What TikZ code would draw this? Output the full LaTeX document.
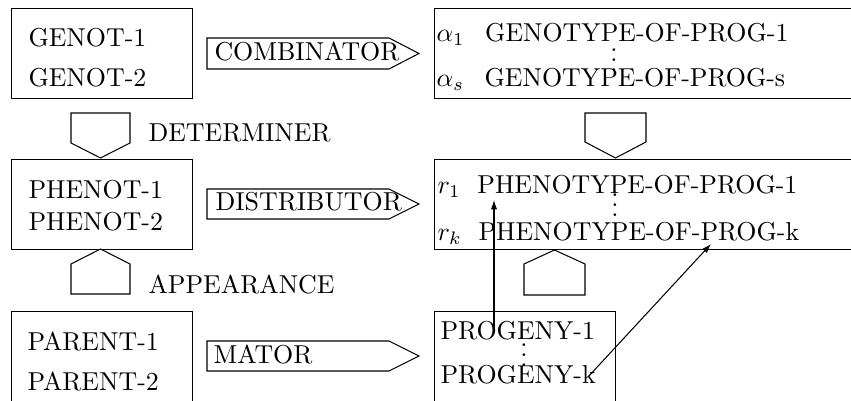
\documentclass[tikz,border=0pt]{standalone}
\usetikzlibrary{arrows.meta}
\begin{document}
\begin{tikzpicture}[x=0.3861pt,y=-0.3861pt,line width=0.4pt,
  frame/.style={draw, inner sep=0pt, anchor=north west},
  word/.style={inner sep=0pt, anchor=base west},
  dots/.style={inner sep=0pt, anchor=base},
  tag/.style={draw, line join=miter},
  link/.style={-{Latex[length=3.6pt,width=2.4pt]}}]
\useasboundingbox (0,0) rectangle (851,401);
\clip (0,0) rectangle (851,401);

% left column of boxes
\node[frame, minimum width={181*0.3861pt}, minimum height={90*0.3861pt}] (genot) at (11,8) {};
\node[frame, minimum width={181*0.3861pt}, minimum height={90*0.3861pt}] (phenot) at (11,159) {};
\node[frame, minimum width={181*0.3861pt}, minimum height={100*0.3861pt}] (parent) at (11,311) {};
\node[word] (g1) at (28,47) {GENOT-1};
\node[word] (g2) at (28,87) {GENOT-2};
\node[word] (ph1) at (28,199) {PHENOT-1};
\node[word] (ph2) at (28,231) {PHENOT-2};
\node[word] (pa1) at (27,351) {PARENT-1};
\node[word] (pa2) at (27,391) {PARENT-2};

% right column of boxes
\node[frame, minimum width={480*0.3861pt}, minimum height={90*0.3861pt}] (genotype) at (434,8) {};
\node[frame, minimum width={480*0.3861pt}, minimum height={90*0.3861pt}] (phenotype) at (434,159) {};
\node[frame, minimum width={181*0.3861pt}, minimum height={100*0.3861pt}] (progeny) at (434,311) {};
\node[word] (ga) at (436,42) {$\alpha_1$\hspace{7.9pt}GENOTYPE-OF-PROG-1};
\node[dots] (gd) at (614,72) {$\vdots$};
\node[word] (gs) at (436,87) {$\alpha_s$\hspace{7.9pt}GENOTYPE-OF-PROG-s};
\node[word] (r1) at (437,194) {$r_1$\hspace{6.4pt}PHENOTYPE-OF-PROG-1};
\node[dots] (rd) at (615,217) {$\vdots$};
\node[word] (rk) at (437,241) {$r_k$\hspace{6.4pt}PHENOTYPE-OF-PROG-k};
\node[word] (pr1) at (440,340) {PROGENY-1};
\node[dots] (prd) at (524,367) {$\vdots$};
\node[word] (prk) at (440,384) {PROGENY-k};

% horizontal operator tags
\draw[tag] (207,38) -- (389,38) -- (419,53.5) -- (389,69) -- (207,69) -- cycle;
\node[word] (comb) at (214,61) {COMBINATOR};
\draw[tag] (207,189) -- (389,189) -- (419,204) -- (389,219) -- (207,219) -- cycle;
\node[word] (dist) at (215,211) {DISTRIBUTOR};
\draw[tag] (207,341) -- (389,341) -- (419,356) -- (389,371) -- (207,371) -- cycle;
\node[word] (mat) at (213,364) {MATOR};

% vertical operator tags
\draw[tag] (71,113) -- (130,113) -- (130,143) -- (100.5,158) -- (71,143) -- cycle;
\node[word] (det) at (148,142) {DETERMINER};
\draw[tag] (71,294) -- (130,294) -- (130,264) -- (100.5,249) -- (71,264) -- cycle;
\node[word] (app) at (148,294) {APPEARANCE};
\draw[tag] (585,113) -- (646,113) -- (646,142) -- (615.5,158) -- (585,142) -- cycle;
\draw[tag] (524,295) -- (585,295) -- (585,264) -- (554.5,250) -- (524,264) -- cycle;

% links from progeny to phenotypes
\coordinate (l1s) at (494,329);
\coordinate (l1e) at (494,200);
\coordinate (l2s) at (588,377);
\coordinate (l2e) at (711,244);
\draw[link] (l1s) -- (l1e);
\draw[link] (l2s) -- (l2e);
\end{tikzpicture}
\end{document}
